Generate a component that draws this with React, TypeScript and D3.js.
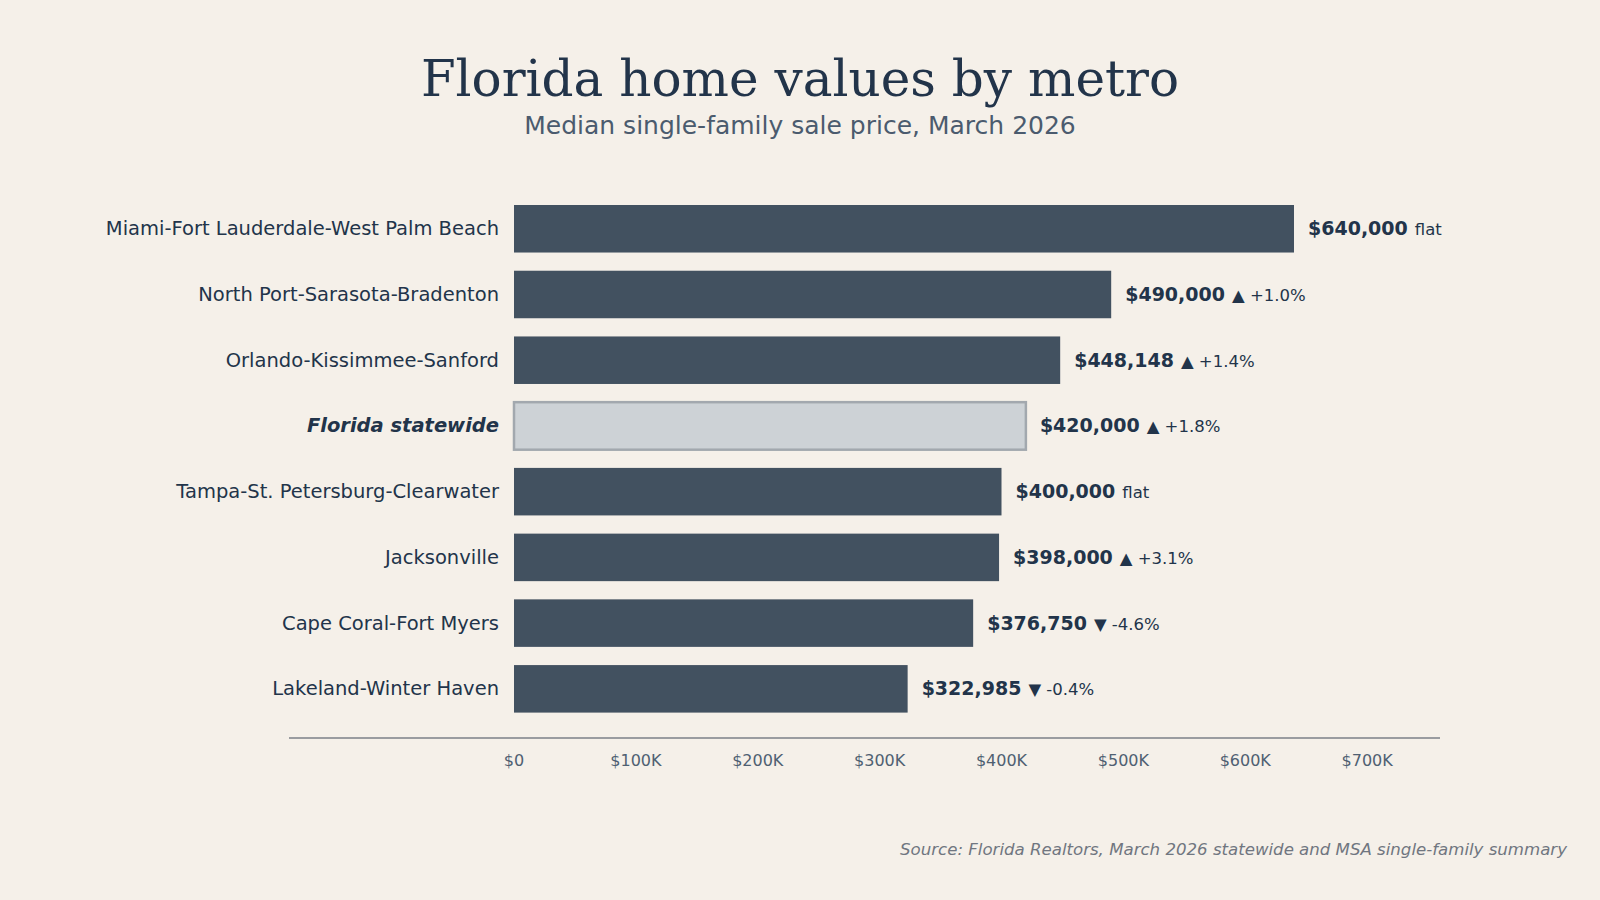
import * as d3 from 'd3'

const metros = [
  'Miami-Fort Lauderdale-West Palm Beach',
  'North Port-Sarasota-Bradenton',
  'Orlando-Kissimmee-Sanford',
  'Florida statewide',
  'Tampa-St. Petersburg-Clearwater',
  'Jacksonville',
  'Cape Coral-Fort Myers',
  'Lakeland-Winter Haven',
]
const prices = [640000, 490000, 448148, 420000, 400000, 398000, 376750, 322985]
// year-over-year change in percent, null = flat
const changes: (number | null)[] = [null, 1.0, 1.4, 1.8, null, 3.1, -4.6, -0.4]
const tickValues = [0, 100000, 200000, 300000, 400000, 500000, 600000, 700000]
const STATEWIDE = 'Florida statewide'

const W = 1600
const H = 900
const INK = '#22344a'
const BAR = '#425160'
const BG = '#f5f0e9'
const SANS = '"DejaVu Sans", sans-serif'

const x = d3.scaleLinear().domain([0, 640000]).range([514, 1294])
const y = d3.scaleBand<string>()
  .domain(metros)
  .range([195.9, 721.7])
  .paddingInner(0.277)
  .paddingOuter(0.1385)

const money = d3.format('$,')
const tickFmt = (v: number) => (v === 0 ? '$0' : `$${v / 1000}K`)

function changeText(c: number | null) {
  if (c === null) return 'flat'
  return c > 0 ? `▲ +${c.toFixed(1)}%` : `▼ ${c.toFixed(1)}%`
}

export default function App() {
  const axisY = 738
  return (
    <div style={{ position: 'fixed', left: 0, top: 0, width: W, height: H, background: BG }}>
      <svg width={W} height={H} style={{ display: 'block' }}>
        <rect width={W} height={H} fill={BG} />

        <text x={800} y={96} textAnchor="middle" fontFamily='"DejaVu Serif", serif' fontSize={50} fill={INK}>
          Florida home values by metro
        </text>
        <text x={800} y={134} textAnchor="middle" fontFamily={SANS} fontSize={25} fill="#4b5b6e">
          Median single-family sale price, March 2026
        </text>

        {metros.map((m, i) => {
          const by = y(m)!
          const bh = y.bandwidth()
          const cy = by + bh / 2
          const isState = m === STATEWIDE
          return (
            <g key={m}>
              {isState ? (
                <rect x={x(0)} y={by} width={x(prices[i]) - x(0)} height={bh}
                  fill="#cdd2d6" stroke="#a2a8ae" strokeWidth={2.5} />
              ) : (
                <rect x={x(0)} y={by} width={x(prices[i]) - x(0)} height={bh} fill={BAR} />
              )}
              <text x={499} y={cy + 6.5} textAnchor="end" fontFamily={SANS} fontSize={19.5}
                fill={INK} fontWeight={isState ? 'bold' : 'normal'} fontStyle={isState ? 'italic' : 'normal'}>
                {m}
              </text>
              <text x={x(prices[i]) + 14} y={cy + 6.5} fontFamily={SANS} fill={INK}>
                <tspan fontWeight="bold" fontSize={19}>{money(prices[i])}</tspan>
                <tspan fontSize={16.5} dx={7}>{changeText(changes[i])}</tspan>
              </text>
            </g>
          )
        })}

        <line x1={289} x2={1440} y1={axisY} y2={axisY} stroke="#7b8087" strokeWidth={1.5} />
        {tickValues.map(t => (
          <text key={t} x={x(t)} y={766} textAnchor="middle" fontFamily={SANS} fontSize={16} fill="#4f6072">
            {tickFmt(t)}
          </text>
        ))}

        <text x={1567} y={855} textAnchor="end" fontFamily={SANS} fontStyle="italic" fontSize={16.6} fill="#707680">
          Source: Florida Realtors, March 2026 statewide and MSA single-family summary
        </text>
      </svg>
    </div>
  )
}
